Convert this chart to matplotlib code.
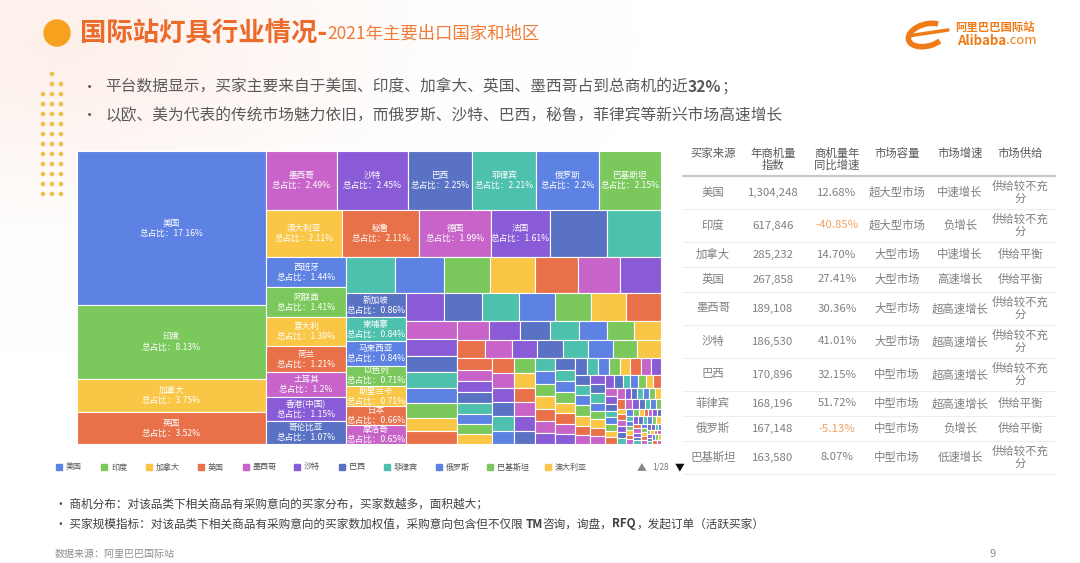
import numpy as np
import matplotlib.pyplot as plt
from matplotlib.patches import Rectangle, Circle, Arc

plt.rcParams['font.family'] = ['Noto Sans CJK SC', 'DejaVu Sans']

# ---- treemap data (总占比 %) ----
names = ['美国', '印度', '加拿大', '英国', '墨西哥', '沙特', '巴西', '菲律宾', '俄罗斯', '巴基斯坦',
         '澳大利亚', '秘鲁', '德国', '法国', '', '',
         '西班牙', '阿联酋', '意大利', '荷兰', '土耳其', '香港(中国)', '哥伦比亚',
         '', '', '', '', '', '', '',
         '新加坡', '柬埔寨', '马来西亚', '以色列', '斯里兰卡', '日本', '摩洛哥']
shares = [17.16, 8.13, 3.75, 3.52, 2.49, 2.45, 2.25, 2.21, 2.2, 2.15,
          2.11, 2.11, 1.99, 1.61, 1.56, 1.50,
          1.44, 1.41, 1.39, 1.21, 1.2, 1.15, 1.07,
          1.03, 1.02, 0.96, 0.95, 0.90, 0.88, 0.87,
          0.86, 0.84, 0.84, 0.71, 0.71, 0.66, 0.65]
# unlabeled small markets
tail = [0.64, 0.63, 0.61, 0.60, 0.60, 0.59, 0.58,
        0.54, 0.52, 0.49, 0.48, 0.46, 0.43, 0.41, 0.39,
        0.36, 0.35, 0.34, 0.33, 0.32, 0.31, 0.30,
        0.29, 0.28, 0.27, 0.27, 0.26, 0.26, 0.25, 0.25,
        0.24, 0.23, 0.23, 0.22, 0.22, 0.21, 0.21, 0.20,
        0.20, 0.20, 0.19, 0.19, 0.19, 0.18, 0.18, 0.18, 0.17, 0.17,
        0.17, 0.16, 0.16, 0.16, 0.15, 0.15, 0.15, 0.14, 0.14, 0.14,
        0.13, 0.13, 0.13, 0.12, 0.12, 0.12, 0.12, 0.11, 0.11, 0.11,
        0.11, 0.10, 0.10, 0.10, 0.10, 0.09, 0.09, 0.09, 0.09, 0.09,
        0.08, 0.08, 0.08, 0.08, 0.08, 0.07, 0.07, 0.07, 0.07, 0.07,
        0.07, 0.07, 0.06, 0.06, 0.06, 0.06, 0.06, 0.06, 0.06, 0.05,
        0.05, 0.05, 0.05, 0.05, 0.05, 0.05, 0.04, 0.04, 0.04, 0.04,
        0.04, 0.04, 0.04, 0.04, 0.04, 0.03, 0.03, 0.03, 0.03, 0.03,
        0.03, 0.03, 0.03, 0.03, 0.03, 0.03, 0.03, 0.02, 0.02, 0.02,
        0.02, 0.02, 0.02, 0.02, 0.02, 0.02, 0.02, 0.02, 0.02, 0.02,
        0.02, 0.02, 0.02, 0.02, 0.02, 0.02, 0.015, 0.015, 0.015, 0.015,
        0.015, 0.015, 0.015, 0.015, 0.015, 0.015, 0.01, 0.01, 0.01, 0.01,
        0.01, 0.01, 0.01, 0.01, 0.01, 0.01, 0.01, 0.01, 0.01, 0.01]

legend_names = ['美国', '印度', '加拿大', '英国', '墨西哥', '沙特', '巴西', '菲律宾', '俄罗斯', '巴基斯坦', '澳大利亚']

# ---- table data ----
tbl_head = ['买家来源', '年商机量\n指数', '商机量年\n同比增速', '市场容量', '市场增速', '市场供给']
tbl_country = ['美国', '印度', '加拿大', '英国', '墨西哥', '沙特', '巴西', '菲律宾', '俄罗斯', '巴基斯坦']
tbl_index = ['1,304,248', '617,846', '285,232', '267,858', '189,108', '186,530', '170,896', '168,196', '167,148', '163,580']
tbl_growth = [12.68, -40.85, 14.70, 27.41, 30.36, 41.01, 32.15, 51.72, -5.13, 8.07]
tbl_size = ['超大型市场', '超大型市场', '大型市场', '大型市场', '大型市场', '大型市场', '中型市场', '中型市场', '中型市场', '中型市场']
tbl_speed = ['中速增长', '负增长', '中速增长', '高速增长', '超高速增长', '超高速增长', '超高速增长', '超高速增长', '负增长', '低速增长']
tbl_supply = ['供给较不充分', '供给较不充分', '供给平衡', '供给平衡', '供给较不充分', '供给较不充分',
              '供给较不充分', '供给平衡', '供给平衡', '供给较不充分']

palette = ['#5D82E3', '#7BC95C', '#F9C646', '#E8714A', '#C864C9', '#895BD6', '#5A72C4', '#4DC0AE']


def worst(row, L, ratio=1.618):
    s = sum(row)
    f = L * L * ratio
    return max(f * max(row) / (s * s), s * s / (f * min(row)))


def place(row, rect, out, flush=False):
    x, y, w, h = rect
    s = sum(row)
    if w <= h:
        rh = h if flush else s / w
        xx = x
        for a in row:
            out.append((xx, y, a / rh, rh))
            xx += a / rh
        return (x, y + rh, w, h - rh)
    cw = w if flush else s / h
    yy = y
    for a in row:
        out.append((x, yy, cw, a / cw))
        yy += a / cw
    return (x + cw, y, w - cw, h)


def layout(vals, plan, x, y, w, h):
    scale = w * h / sum(vals)
    out = []
    i = 0
    rect = (x, y, w, h)
    for n, orient in plan:
        seg = [v * scale for v in vals[i:i + n]]
        x, y, w, h = rect
        s = sum(seg)
        if orient == 'col':
            cw = s / h
            yy = y
            for a in seg:
                out.append((x, yy, cw, a / cw))
                yy += a / cw
            rect = (x + cw, y, w - cw, h)
        else:
            rh = s / w
            xx = x
            for a in seg:
                out.append((xx, y, a / rh, rh))
                xx += a / rh
            rect = (x, y + rh, w, h - rh)
        i += n
    areas = [v * scale for v in vals[i:]]
    row, best, j = [], np.inf, 0
    while j < len(areas):
        L = min(rect[2], rect[3])
        row.append(areas[j])
        sc = worst(row, L)
        if sc <= best:
            best = sc
            j += 1
        else:
            row.pop()
            rect = place(row, rect, out)
            row, best = [], np.inf
    if row:
        place(row, rect, out, flush=True)
    return out


fig = plt.figure(figsize=(10.8, 5.63), dpi=100)
ax = fig.add_axes([0, 0, 1, 1])
ax.set_xlim(0, 1080)
ax.set_ylim(563, 0)
ax.axis('off')

# soft warm glow in the top-left corner
gx, gy = np.meshgrid(np.linspace(0, 1080, 216), np.linspace(0, 563, 113))
glow = np.exp(-(((gx - 60) / 260) ** 2 + ((gy - 40) / 140) ** 2))
img = np.ones((113, 216, 4))
img[..., 0] = 0.99
img[..., 1] = 0.90
img[..., 2] = 0.86
img[..., 3] = glow * 0.55
ax.imshow(img, extent=(0, 1080, 563, 0), zorder=0, aspect='auto')

renderer = fig.canvas.get_renderer()


def runs(x, y, parts, **kw):
    for txt, extra in parts:
        t = ax.text(x, y, txt, va='center', ha='left', **kw, **extra)
        x = t.get_window_extent(renderer).x1
    return x


# title
ax.add_patch(Circle((57, 33), 13, color='#F6A21E', zorder=2))
runs(80, 34, [('国际站灯具行业情况-', dict(fontsize=19, fontweight='bold', color='#EC6A2A')),
              ('2021年主要出口国家和地区', dict(fontsize=12.5, color='#EE7B38'))])

# logo
ax.add_patch(Arc((927, 35), 38, 22, angle=-15, theta1=40, theta2=330, lw=4, color='#F07A16'))
ax.plot([908, 948], [36, 30], color='#F07A16', lw=2.5, solid_capstyle='round')
ax.text(955, 27, '阿里巴巴国际站', fontsize=8.2, color='#F07A16', fontweight='bold', va='center')
runs(957, 41, [('Alibaba', dict(fontsize=9.5, fontweight='bold', color='#F07A16')),
               ('.com', dict(fontsize=9.5, color='#F07A16'))])

# dots
for r, yy in enumerate(range(74, 200, 10)):
    cols = [52] if r == 0 else ([52, 61] if r == 1 else [43, 52, 61])
    for xx in cols:
        ax.add_patch(Circle((xx, yy), 1.6, color='#F0C04C', zorder=2))

# bullet lines
grey = '#595959'
ax.text(82, 87, '•', fontsize=11, color=grey, va='center')
runs(105, 87, [('平台数据显示，买家主要来自于美国、印度、加拿大、英国、墨西哥占到总商机的近', {}),
               ('32%', dict(fontweight='bold')), ('；', {})], fontsize=11.3, color=grey)
ax.text(82, 116, '•', fontsize=11, color=grey, va='center')
ax.text(105, 116, '以欧、美为代表的传统市场魅力依旧，而俄罗斯、沙特、巴西，秘鲁，菲律宾等新兴市场高速增长',
        fontsize=11.3, color=grey, va='center')

# treemap
all_vals = shares + tail
all_names = names + [''] * len(tail)
plan = [(4, 'col'), (6, 'row'), (6, 'row'), (7, 'col'), (7, 'row'), (7, 'col'),
        (7, 'row'), (8, 'col'), (7, 'row'), (8, 'row'), (8, 'col')]
rects = layout(all_vals, plan, 77, 151, 584, 293)
for k, (x, y, w, h) in enumerate(rects):
    ax.add_patch(Rectangle((x, y), w, h, facecolor=palette[k % 8], edgecolor='white', lw=0.8, zorder=3))
    if all_names[k]:
        ax.text(x + w / 2, y + h / 2, f'{all_names[k]}\n总占比：{all_vals[k]:g}%', color='white',
                fontsize=6.2, ha='center', va='center', linespacing=1.15, zorder=4)

# legend
lx = 59
for k, nm in enumerate(legend_names):
    ax.add_patch(Rectangle((lx - 3, 464), 6, 6, color=palette[k % 8], zorder=3))
    ax.text(lx + 7, 467, nm, fontsize=5.8, color='#555555', va='center')
    lx += 32 + 6.5 * len(nm)
ax.text(637, 467, '▲', fontsize=7, color='#888888', va='center')
ax.text(652, 467, '1/28', fontsize=5.8, color='#777777', va='center')
ax.text(675, 467, '▼', fontsize=7, color='#111111', va='center')

# footnotes
fn = '#404040'
ax.text(55, 504, '• 商机分布：对该品类下相关商品有采购意向的买家分布，买家数越多，面积越大；',
        fontsize=8.4, color=fn, va='center')
runs(55, 524, [('• 买家规模指标：对该品类下相关商品有采购意向的买家数加权值，采购意向包含但不仅限 ', {}),
               ('TM', dict(fontweight='bold')), ('咨询，询盘，', {}), ('RFQ', dict(fontweight='bold')),
               ('，发起订单（活跃买家）', {})], fontsize=8.4, color=fn)
ax.text(55, 554, '数据来源：阿里巴巴国际站', fontsize=7.2, color='#8C8C8C', va='center')
ax.text(993, 554, '9', fontsize=8, color='#8C8C8C', va='center', ha='center')

# table
colx = [713, 773, 837, 897, 960, 1020]
for cx, hd in zip(colx, tbl_head):
    lines = hd.split('\n')
    for li, ln in enumerate(lines):
        ax.text(cx, 153 + 12.5 * li, ln, fontsize=8.2, color='#595959', ha='center', va='center')
ax.plot([683, 1055], [176, 176], color='#C8C8C8', lw=1.6)
tc = '#808080'
top = 176
for i in range(len(tbl_country)):
    sup = tbl_supply[i]
    sup_lines = [sup] if len(sup) <= 5 else [sup[:5], sup[5:]]
    h = 33 if len(sup_lines) == 2 else 25
    cy = top + h / 2
    g = tbl_growth[i]
    vals = [tbl_country[i], tbl_index[i], f'{g:.2f}%', tbl_size[i], tbl_speed[i]]
    for j, v in enumerate(vals):
        col = '#F3A060' if (j == 2 and g < 0) else tc
        ax.text(colx[j], cy, v, fontsize=8.2, color=col, ha='center', va='center')
    if len(sup_lines) == 2:
        ax.text(colx[5], cy - 6, sup_lines[0], fontsize=8.2, color=tc, ha='center', va='center')
        ax.text(colx[5], cy + 6.5, sup_lines[1], fontsize=8.2, color=tc, ha='center', va='center')
    else:
        ax.text(colx[5], cy, sup_lines[0], fontsize=8.2, color=tc, ha='center', va='center')
    top += h
    ax.plot([683, 1055], [top, top], color='#EDEDED', lw=0.8)

fig.savefig('out.png', dpi=100)
